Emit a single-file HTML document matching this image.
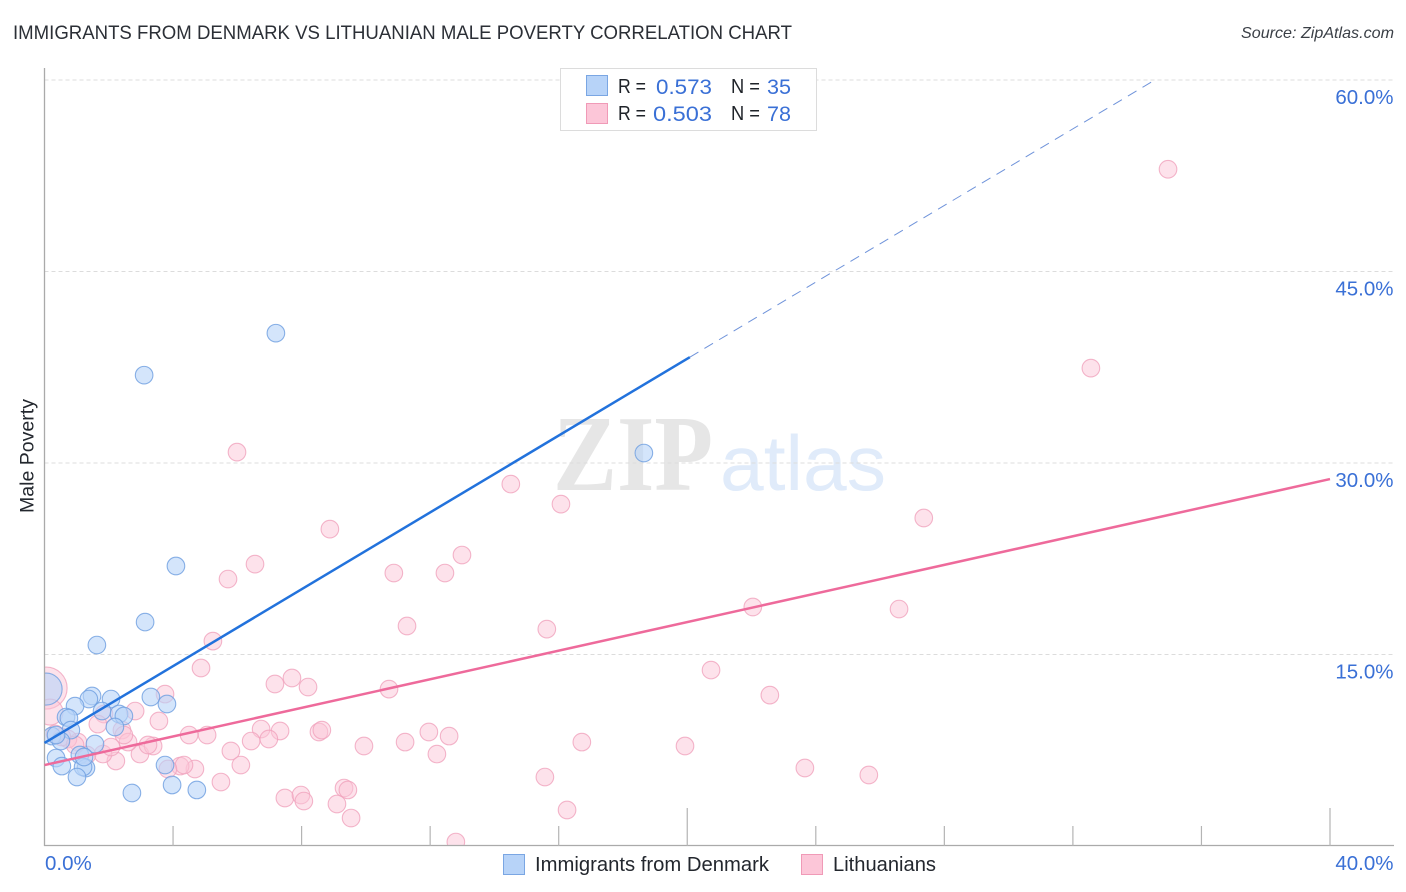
<!DOCTYPE html>
<html lang="en">
<head>
<meta charset="utf-8">
<title>Immigrants from Denmark vs Lithuanian Male Poverty Correlation Chart</title>
<style>
html,body{margin:0;padding:0;background:#fff;}
body{width:1406px;height:892px;overflow:hidden;}
svg{display:block;font-family:"Liberation Sans",sans-serif;}
</style>
</head>
<body>
<svg id="chart" xmlns="http://www.w3.org/2000/svg" width="1406" height="892" viewBox="0 0 1406 892">
  <defs>
    <clipPath id="plot-clip"><rect x="44.5" y="60" width="1350" height="786"/></clipPath>
  </defs>
  <rect x="0" y="0" width="1406" height="892" fill="#ffffff"/>
  <text x="13" y="39" font-size="19" fill="#2b2f36" textLength="779" lengthAdjust="spacingAndGlyphs">IMMIGRANTS FROM DENMARK VS LITHUANIAN MALE POVERTY CORRELATION CHART</text>
  <text x="1241" y="38" font-size="16" font-style="italic" fill="#3a3f46" textLength="153" lengthAdjust="spacingAndGlyphs">Source: ZipAtlas.com</text>
  <g>
    <text x="553" y="490" font-family="'Liberation Serif',serif" font-weight="bold" font-size="108" fill="#e6e6e6" textLength="160" lengthAdjust="spacingAndGlyphs">ZIP</text>
    <text x="720" y="490" font-size="78" fill="#e0ebfa" textLength="166" lengthAdjust="spacingAndGlyphs">atlas</text>
  </g>
  <g id="grid"></g>
  <g id="points" clip-path="url(#plot-clip)"></g>
  <rect x="0" y="60" width="44.5" height="786" fill="#ffffff"/>
  <rect x="0" y="846" width="1406" height="46" fill="#ffffff"/>
  <g id="axes"></g>
  <g id="lines"></g>
  <g id="labels"></g>
  <text transform="translate(33.5,456) rotate(-90)" font-size="19" text-anchor="middle" fill="#23272e" textLength="114" lengthAdjust="spacingAndGlyphs">Male Poverty</text>
  <g>
    <rect x="560.5" y="68.5" width="256" height="62" fill="#ffffff" stroke="#dcdcdc" stroke-width="1"/>
    <rect x="586.5" y="75.5" width="21" height="20" fill="#b7d3f8" stroke="#7aa6e3" stroke-width="1"/>
    <rect x="586.5" y="103.5" width="21" height="20" fill="#fcc6d8" stroke="#f09ab7" stroke-width="1"/>
    <g font-size="20" fill="#1f2329">
      <text x="618" y="93" textLength="28" lengthAdjust="spacingAndGlyphs">R =</text>
      <text x="731" y="93" textLength="29" lengthAdjust="spacingAndGlyphs">N =</text>
      <text x="618" y="120" textLength="28" lengthAdjust="spacingAndGlyphs">R =</text>
      <text x="731" y="120" textLength="29" lengthAdjust="spacingAndGlyphs">N =</text>
    </g>
    <g font-size="21" fill="#3a70d6">
      <text x="656" y="94" textLength="56" lengthAdjust="spacingAndGlyphs">0.573</text>
      <text x="767" y="94" textLength="24" lengthAdjust="spacingAndGlyphs">35</text>
      <text x="653" y="121" textLength="59" lengthAdjust="spacingAndGlyphs">0.503</text>
      <text x="767" y="121" textLength="24" lengthAdjust="spacingAndGlyphs">78</text>
    </g>
  </g>
  <g>
    <rect x="503.5" y="854.5" width="21" height="20" fill="#b7d3f8" stroke="#7aa6e3" stroke-width="1"/>
    <text x="535" y="871" font-size="20" fill="#23272e" textLength="234" lengthAdjust="spacingAndGlyphs">Immigrants from Denmark</text>
    <rect x="801.5" y="854.5" width="21" height="20" fill="#fcc6d8" stroke="#f09ab7" stroke-width="1"/>
    <text x="833" y="871" font-size="20" fill="#23272e" textLength="103" lengthAdjust="spacingAndGlyphs">Lithuanians</text>
  </g>
</svg>
<script>
const xTicks = [0, 4, 8, 12, 16, 20, 24, 28, 32, 36, 40];
const xMajorTicks = [20, 40];
const xLabelValues = [0, 40];
const xLabelTexts = ['0.0%', '40.0%'];
const yTicks = [15, 30, 45, 60];
const yLabelTexts = ['15.0%', '30.0%', '45.0%', '60.0%'];

const denmarkX = [0.05,1.63,3.31,3.81,1.48,1.38,2.07,0.95,1.79,2.32,2.47,0.67,0.76,2.19,0.82,0.23,0.51,1.57,1.10,0.36,0.54,1.29,1.20,1.01,3.75,3.97,4.74,2.72,7.20,3.10,18.65,4.09,3.13,0.36,1.23];
const denmarkY = [12.29,15.74,11.67,11.12,11.75,11.51,11.51,10.96,10.57,10.34,10.18,10.10,10.02,9.32,9.08,8.61,8.22,7.99,7.13,6.89,6.26,6.11,6.19,5.40,6.34,4.78,4.39,4.15,40.17,36.88,30.78,21.93,17.54,8.69,6.97];

const lithuanianX = [0.05,0.17,5.24,4.87,7.17,7.70,8.20,3.75,2.82,3.56,1.85,1.66,2.41,4.50,5.06,6.74,7.33,6.43,6.98,8.54,8.63,5.80,6.11,5.49,7.48,7.98,8.07,9.10,9.32,9.44,9.54,4.68,4.22,4.34,3.84,2.22,1.82,2.97,3.38,3.22,2.60,2.47,2.07,1.32,1.04,0.73,0.54,0.33,10.72,9.94,11.22,11.96,12.59,12.21,12.80,15.57,16.26,16.72,19.93,5.99,8.88,6.55,5.71,10.87,12.46,12.99,14.51,16.07,11.28,15.63,34.96,32.56,27.36,26.59,22.04,20.74,22.57,23.66,25.65,0.95];
const lithuanianY = [12.37,10.49,16.05,13.94,12.69,13.16,12.45,11.90,10.57,9.79,10.34,9.55,9.08,8.69,8.69,9.16,9.01,8.22,8.38,8.93,9.08,7.44,6.34,5.01,3.76,3.99,3.52,3.29,4.54,4.39,2.19,6.03,6.26,6.34,6.03,6.66,7.20,7.20,7.83,7.91,8.14,8.69,7.75,7.13,8.14,8.38,8.54,8.77,12.29,7.83,8.14,8.93,8.61,7.20,0.31,5.40,2.82,8.14,7.83,30.85,24.82,22.08,20.91,21.38,21.38,22.79,28.35,26.78,17.23,16.99,53.01,37.43,25.69,18.56,18.72,13.78,11.82,6.11,5.56,7.91];

const denmarkTrendX = [0, 20.08];
const denmarkTrendY = [8.07, 38.29];
const denmarkProjectionX = [20.08, 34.55];
const denmarkProjectionY = [38.29, 60];
const lithuanianTrendX = [0, 40];
const lithuanianTrendY = [6.34, 28.74];

const NS = 'http://www.w3.org/2000/svg';
function xScale(v) { return 44.5 + v * (1330 - 44.5) / 40; }
function yScale(v) { return 846 - v * (846 - 80) / 60; }
function make(parent, tag, attrs, text) {
  const el = document.createElementNS(NS, tag);
  for (const k in attrs) el.setAttribute(k, attrs[k]);
  if (text !== undefined) el.textContent = text;
  parent.appendChild(el);
  return el;
}

const grid = document.getElementById('grid');
const axes = document.getElementById('axes');
const labels = document.getElementById('labels');
const points = document.getElementById('points');
const lines = document.getElementById('lines');

yTicks.forEach(function (t) {
  const g = make(grid, 'line', { x1: 44.5, x2: 1394, y1: yScale(t), y2: yScale(t), stroke: '#dcdcdc', 'stroke-width': 1, 'stroke-dasharray': '4 3' });
  
  
});

const yAxis = make(axes, 'line', { x1: 44.5, x2: 44.5, y1: 68, y2: 846, stroke: '#aaaaaa', 'stroke-width': 1.3 });


const xAxis = make(axes, 'line', { x1: 44, x2: 1394, y1: 845.5, y2: 845.5, stroke: '#aaaaaa', 'stroke-width': 1.3 });



xTicks.forEach(function (t) {
  if (t === 0) return;
  const top = xMajorTicks.indexOf(t) >= 0 ? 808 : 826;
  const tick = make(axes, 'line', { x1: xScale(t), x2: xScale(t), y1: top, y2: 846, stroke: '#b4b4b4', 'stroke-width': 1.2 });
  
  
});

xLabelValues.forEach(function (v, i) {
  const atEnd = i === xLabelValues.length - 1;
  const label = make(labels, 'text', { x: atEnd ? xScale(v) + 63.5 : xScale(v) + 0.5, y: 870, 'font-size': 20.5, fill: '#3a70d6', 'text-anchor': atEnd ? 'end' : 'start' }, xLabelTexts[i]);
  
  
});

yTicks.forEach(function (t, i) {
  const label = make(labels, 'text', { x: 1393.5, y: yScale(t) + 24, 'font-size': 20.5, fill: '#3a70d6', 'text-anchor': 'end' }, yLabelTexts[i]);
  
  
});

lithuanianX.forEach(function (v, i) {
  const r = i === 0 ? 21 : (i === 1 ? 13 : 8.8);
  const c = make(points, 'circle', { cx: xScale(v), cy: yScale(lithuanianY[i]), r: r, fill: '#fbc6d7', 'fill-opacity': 0.5, stroke: '#f0a3bd', 'stroke-opacity': 0.8, 'stroke-width': 1.1 });
  
  
});

denmarkX.forEach(function (v, i) {
  const r = i === 0 ? 16 : 8.8;
  const c = make(points, 'circle', { cx: xScale(v), cy: yScale(denmarkY[i]), r: r, fill: '#b8d4f8', 'fill-opacity': 0.6, stroke: '#6d9ee0', 'stroke-opacity': 0.8, 'stroke-width': 1.1 });
  
  
});

const projection = make(lines, 'line', { x1: xScale(denmarkProjectionX[0]), y1: yScale(denmarkProjectionY[0]), x2: xScale(denmarkProjectionX[1]), y2: yScale(denmarkProjectionY[1]), stroke: '#6f93da', 'stroke-width': 1, 'stroke-dasharray': '10 7' });



const denmarkLine = make(lines, 'line', { x1: xScale(denmarkTrendX[0]), y1: yScale(denmarkTrendY[0]), x2: xScale(denmarkTrendX[1]), y2: yScale(denmarkTrendY[1]), stroke: '#2272dc', 'stroke-width': 2.5 });



const lithuanianLine = make(lines, 'line', { x1: xScale(lithuanianTrendX[0]), y1: yScale(lithuanianTrendY[0]), x2: xScale(lithuanianTrendX[1]), y2: yScale(lithuanianTrendY[1]), stroke: '#ee6a9b', 'stroke-width': 2.5 });


</script>
</body>
</html>
